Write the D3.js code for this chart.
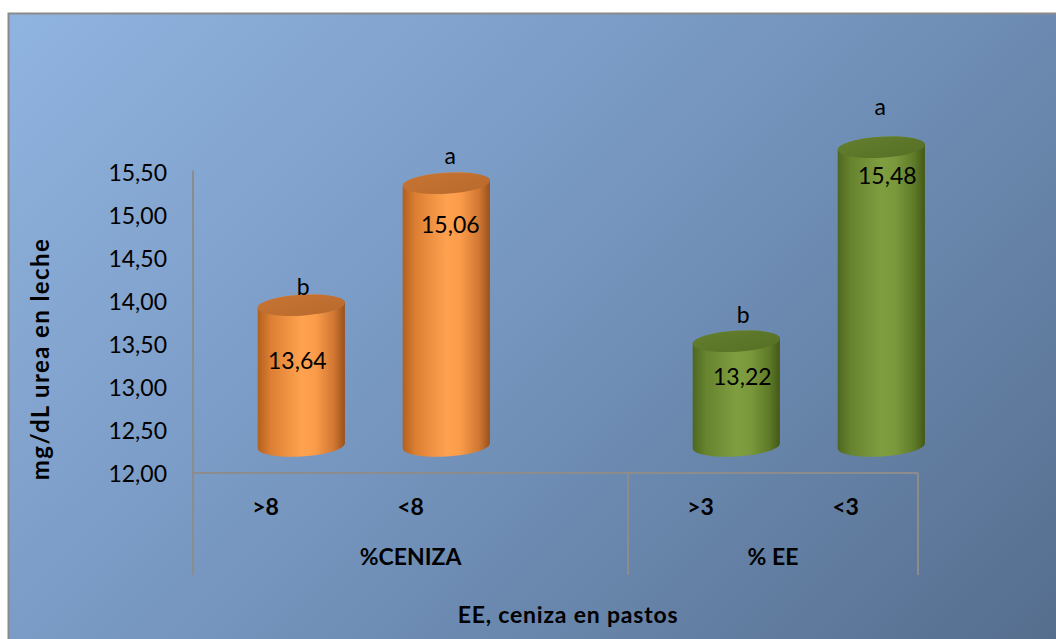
<!DOCTYPE html>
<html>
<head>
<meta charset="utf-8">
<script src="https://cdn.jsdelivr.net/npm/d3@7"></script>
<style>
  html, body { margin: 0; padding: 0; background: #ffffff; }
  svg { display: block; }
  text { font-family: Lato, "Open Sans", sans-serif; fill: #000; }
</style>
</head>
<body>
<svg id="chart" width="1056" height="639"></svg>
<script>
// Urea in milk (mg/dL) by ash and ether-extract content of pasture
const categories = [">8", "<8", "", ">3", "<3"];
const categoryGroup = [0, 0, 0, 1, 1];
const groupNames = ["%CENIZA", "% EE"];
const values = [13.64, 15.06, null, 13.22, 15.48];
const valueLabels = ["13,64", "15,06", "", "13,22", "15,48"];
const significance = ["b", "a", "", "b", "a"];
const yTicks = [12.0, 12.5, 13.0, 13.5, 14.0, 14.5, 15.0, 15.5];
const yTitle = "mg/dL urea en leche";
const xTitle = "EE, ceniza en pastos";

// Per-bar label nudges (px): value label drop below the cap, letter lift above it
const valueNudge = [[-4, 56], [4, 41], [0, 0], [6, 35], [6, 29]];
const letterNudge = [[2, 0], [4, 9], [0, 0], [7, 8], [-1, 22]];

const svg = d3.select("#chart");
const defs = svg.append("defs");

// Chart-area background gradient (45 degrees, light blue to slate)
const bg = defs.append("linearGradient").attr("id", "bg")
  .attr("gradientUnits", "userSpaceOnUse")
  .attr("x1", 8).attr("y1", 13).attr("x2", 845).attr("y2", 850);
bg.append("stop").attr("offset", 0).attr("stop-color", "#90b4e0");
bg.append("stop").attr("offset", 0.5).attr("stop-color", "#7494bd");
bg.append("stop").attr("offset", 1).attr("stop-color", "#556e8e");

svg.append("rect").attr("x", 8).attr("y", 13).attr("width", 1060).attr("height", 640)
  .attr("fill", "url(#bg)");
svg.append("path").attr("d", "M8.5,640 V13.5 H1056")
  .attr("fill", "none").attr("stroke", "#8a8a8a").attr("stroke-width", 2);

// Cylinder shading per group
const palettes = [
  { id: "orange", stops: [[0, "#b2601f"], [0.15, "#dc7f33"], [0.5, "#ffa24f"], [0.66, "#fb9c4a"], [0.88, "#cf7632"], [1, "#98511b"]],
    top: ["#c67434", "#b96a2c"] },
  { id: "green", stops: [[0, "#4e6720"], [0.15, "#66832e"], [0.5, "#7f9e40"], [0.66, "#7a993c"], [0.88, "#5e7a28"], [1, "#435817"]],
    top: ["#637f2e", "#566f25"] }
];
palettes.forEach(p => {
  const g = defs.append("linearGradient").attr("id", "body-" + p.id)
    .attr("x1", 0).attr("y1", 0).attr("x2", 1).attr("y2", 0);
  p.stops.forEach(s => g.append("stop").attr("offset", s[0]).attr("stop-color", s[1]));
  const t = defs.append("linearGradient").attr("id", "top-" + p.id)
    .attr("x1", 0).attr("y1", 0).attr("x2", 1).attr("y2", 1);
  t.append("stop").attr("offset", 0).attr("stop-color", p.top[0]);
  t.append("stop").attr("offset", 1).attr("stop-color", p.top[1]);
});

// Scales
const x = d3.scaleBand().domain(d3.range(categories.length)).range([193, 918]).padding(0);
const y = d3.scaleLinear().domain([12, 15.5]).range([473, 172.5]);

// 3D projection of the cylinders (depth shift) and cap geometry
const depthDx = 35.8, depthDy = -27;
const rx = 43.7, ry = 10.5, tilt = -3.5;
const th = tilt * Math.PI / 180;
const ex = rx * Math.cos(th), ey = rx * Math.sin(th);
const axisBottom = 575;
const boldSize = "23px";

// Y axis
const yAxis = d3.axisLeft(y).tickValues(yTicks)
  .tickFormat(d => d3.format(".2f")(d).replace(".", ","))
  .tickSize(0).tickPadding(26);
const yg = svg.append("g").attr("transform", "translate(193,0)").call(yAxis);
yg.select(".domain").remove();
yg.selectAll("text").style("font-family", "Lato, sans-serif").style("font-size", "23px")
  .attr("fill", "#000").attr("dy", "0.36em");

// Axis lines
const axisColor = "#8c8c8c";
svg.append("line").attr("x1", 193).attr("x2", 193).attr("y1", y(15.5) - 2).attr("y2", axisBottom)
  .attr("stroke", axisColor).attr("stroke-width", 2);
svg.append("line").attr("x1", x.range()[0]).attr("x2", x.range()[1]).attr("y1", y(12)).attr("y2", y(12))
  .attr("stroke", axisColor).attr("stroke-width", 2);
// Group boundaries on the category axis
const groupEdges = [];
categoryGroup.forEach((g, i) => { if (i > 0 && g !== categoryGroup[i - 1]) groupEdges.push(x(i)); });
groupEdges.push(x.range()[1]);
svg.selectAll(".gedge").data(groupEdges).join("line").attr("class", "gedge")
  .attr("x1", d => d).attr("x2", d => d).attr("y1", y(12)).attr("y2", axisBottom)
  .attr("stroke", axisColor).attr("stroke-width", 2);

// Category labels
svg.selectAll(".cat").data(categories).join("text").attr("class", "cat")
  .attr("x", (d, i) => x(i) + x.bandwidth() / 2).attr("y", 507).attr("dy", "0.36em")
  .attr("text-anchor", "middle").style("font-size", boldSize).style("font-weight", "bold")
  .text(d => d);

// Group labels
const groupSpans = groupNames.map((name, g) => {
  const idx = categoryGroup.map((v, i) => v === g ? i : -1).filter(i => i >= 0);
  return { name, x0: x(d3.min(idx)), x1: x(d3.max(idx)) + x.bandwidth() };
});
svg.selectAll(".grp").data(groupSpans).join("text").attr("class", "grp")
  .attr("x", d => (d.x0 + d.x1) / 2).attr("y", 557).attr("dy", "0.36em")
  .attr("text-anchor", "middle").style("font-size", boldSize).style("font-weight", "bold")
  .text(d => d.name);

// Axis titles
svg.append("text").attr("x", 568).attr("y", 615).attr("dy", "0.36em").attr("text-anchor", "middle")
  .style("font-size", boldSize).style("font-weight", "bold").style("letter-spacing", "0.8px")
  .text(xTitle);
svg.append("text").attr("transform", "translate(49,359) rotate(-90)").attr("text-anchor", "middle")
  .style("font-size", "24px").style("font-weight", "bold").style("letter-spacing", "1.4px")
  .text(yTitle);

// Cylinders
const bars = values.map((v, i) => ({ v, i })).filter(d => d.v != null);
const barG = svg.selectAll(".bar").data(bars).join("g").attr("class", "bar");

function bodyPath(cx, yt, yb) {
  return `M${cx - ex},${yt - ey} L${cx - ex},${yb - ey} ` +
    `A${rx},${ry} ${tilt} 0 0 ${cx + ex},${yb + ey} ` +
    `L${cx + ex},${yt + ey} ` +
    `A${rx},${ry} ${tilt} 0 0 ${cx - ex},${yt - ey} Z`;
}

barG.each(function (d) {
  const g = d3.select(this);
  const pal = palettes[categoryGroup[d.i]].id;
  const cx = x(d.i) + x.bandwidth() / 2 + depthDx;
  const yt = y(d.v) + depthDy;
  const yb = y(12) + depthDy;
  g.append("path").attr("d", bodyPath(cx, yt, yb)).attr("fill", `url(#body-${pal})`);
  g.append("ellipse").attr("cx", cx).attr("cy", yt).attr("rx", rx).attr("ry", ry)
    .attr("transform", `rotate(${tilt},${cx},${yt})`).attr("fill", `url(#top-${pal})`);
  // value label
  g.append("text").attr("x", cx + valueNudge[d.i][0]).attr("y", yt + valueNudge[d.i][1])
    .attr("dy", "0.36em").attr("text-anchor", "middle").style("font-size", "23px")
    .text(valueLabels[d.i]);
  // significance letter
  g.append("text").attr("x", cx + letterNudge[d.i][0]).attr("y", yt - ry - letterNudge[d.i][1])
    .attr("text-anchor", "middle").style("font-size", "23px")
    .text(significance[d.i]);
});
</script>
</body>
</html>
